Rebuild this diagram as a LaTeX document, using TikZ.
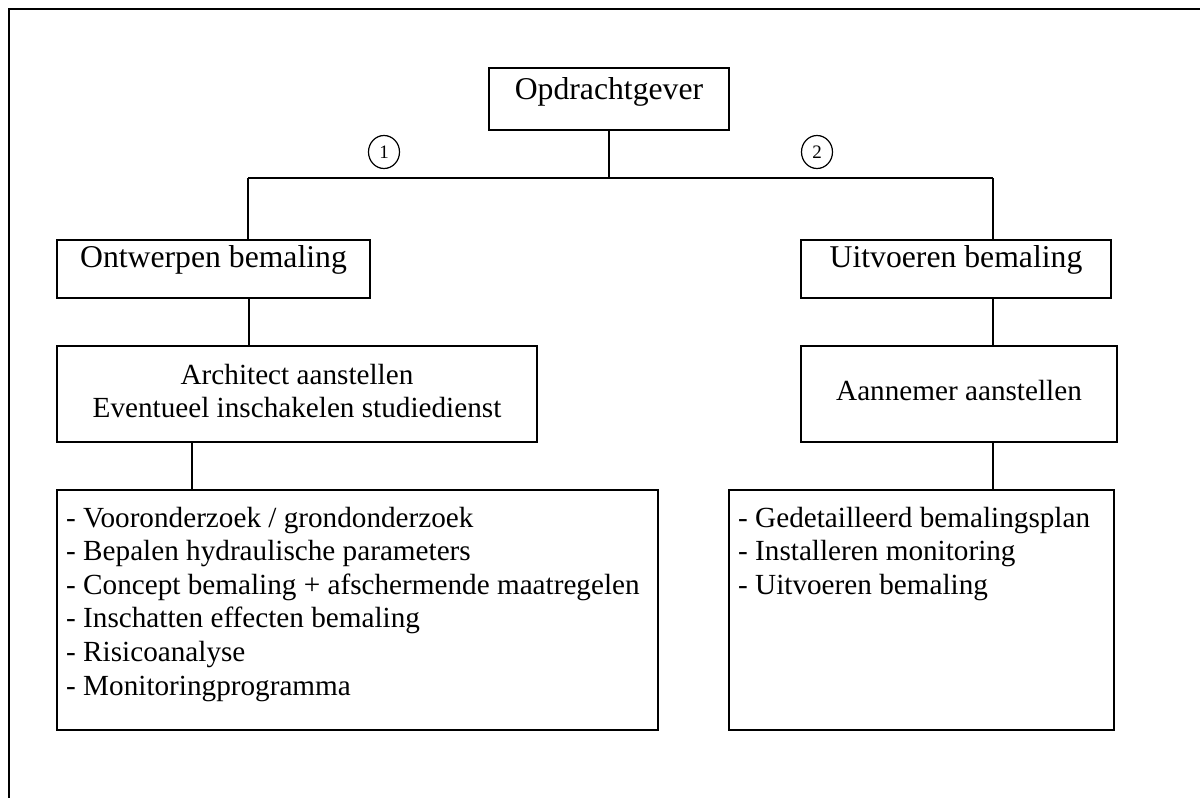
\documentclass[tikz,border=0pt]{standalone}
\usepackage{fontspec}
\usetikzlibrary{shapes.geometric}
\setmainfont{Liberation Serif}
\newcommand{\headfont}{\fontsize{31.7}{36}\selectfont}
\newcommand{\bodyfont}{\fontsize{29.2}{33.6}\selectfont}
\newcommand{\numfont}{\fontsize{19}{22}\selectfont}
\begin{document}
\begin{tikzpicture}[x=1pt,y=-1pt,
  box/.style={draw, line width=1.4pt, inner sep=0pt, rectangle},
  wire/.style={line width=1.4pt},
  txt/.style={inner sep=0pt, anchor=base},
  num/.style={draw, ellipse, line width=1.2pt, inner sep=0pt, minimum width=31pt, minimum height=33pt, font=\numfont}]
  \path[use as bounding box] (0,0) rectangle (1200,798);
  \fill[white] (0,0) rectangle (1200,798);

  % outer frame, running off the right and bottom edges
  \begin{scope}
    \clip (0,0) rectangle (1200,798);
    \draw[line width=2.4pt] (9,820) -- (9,9) -- (1220,9);
  \end{scope}

  % boxes
  \node[box, minimum width=240pt, minimum height=62pt] (opd) at (609,99) {};
  \node[box, minimum width=313pt, minimum height=58pt] (ontw) at (213.5,269) {};
  \node[box, minimum width=480pt, minimum height=96pt] (arch) at (297,394) {};
  \node[box, minimum width=601pt, minimum height=240pt] (lleft) at (357.5,610) {};
  \node[box, minimum width=310pt, minimum height=58pt] (uitv) at (956,269) {};
  \node[box, minimum width=316pt, minimum height=96pt] (ann) at (959,394) {};
  \node[box, minimum width=385pt, minimum height=240pt] (lright) at (921.5,610) {};

  % box texts
  \node[txt, font=\headfont] (topd) at (609,99) {Opdrachtgever};
  \node[txt, font=\headfont] (tontw) at (213.5,267) {Ontwerpen bemaling};
  \node[txt, font=\headfont] (tuitv) at (956,267) {Uitvoeren bemaling};
  \node[txt] (tarch) at (297,384) {\parbox[t]{480pt}{\centering\bodyfont
      Architect aanstellen\\Eventueel inschakelen studiedienst}};
  \node[txt, font=\bodyfont] (tann) at (959,400) {Aannemer aanstellen};
  \node[txt, anchor=base west] (tleft) at (66,527) {\parbox[t]{590pt}{\raggedright\bodyfont
      - Vooronderzoek / grondonderzoek\\
      - Bepalen hydraulische parameters\\
      - Concept bemaling + afschermende maatregelen\\
      - Inschatten effecten bemaling\\
      - Risicoanalyse\\
      - Monitoringprogramma}};
  \node[txt, anchor=base west] (tright) at (738,527) {\parbox[t]{375pt}{\raggedright\bodyfont
      - Gedetailleerd bemalingsplan\\
      - Installeren monitoring\\
      - Uitvoeren bemaling}};

  % numbered markers
  \node[num] (n1) at (384,152) {1};
  \node[num] (n2) at (817,152) {2};

  % connectors
  \coordinate (busL) at (248,178);
  \coordinate (busR) at (993,178);
  \coordinate (colA) at (249,0);
  \coordinate (colB) at (192,0);
  \draw[wire] (busL) -- (busR);
  \draw[wire] (opd.south) -- (opd.south |- busL);
  \draw[wire] (busL) -- (busL |- ontw.north);
  \draw[wire] (busR) -- (busR |- uitv.north);
  \draw[wire] (ontw.south -| colA) -- (arch.north -| colA);
  \draw[wire] (arch.south -| colB) -- (lleft.north -| colB);
  \draw[wire] (uitv.south -| busR) -- (ann.north -| busR);
  \draw[wire] (ann.south -| busR) -- (lright.north -| busR);
\end{tikzpicture}
\end{document}
